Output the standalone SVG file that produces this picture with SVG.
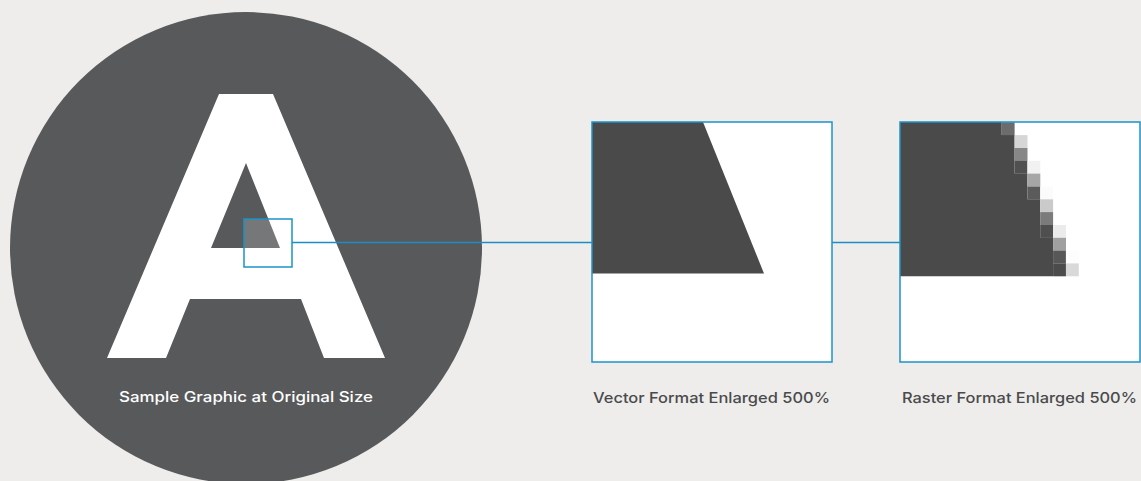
<svg xmlns="http://www.w3.org/2000/svg" width="1141" height="481" viewBox="0 0 1141 481">
<style>
.frame{fill:none;stroke:#1b93c8;stroke-width:1.5}
.conn{stroke:#1b8fc4;stroke-width:1.5;fill:none}
.dark{fill:#4a4a4b}
.lbl{font-family:Inter,"Liberation Sans",sans-serif;font-size:14.5px;font-weight:500}
</style>
<rect width="1141" height="481" fill="#eeedeb"/>
<g id="sample">
<circle cx="246" cy="248" r="236" fill="#58595b"/>
<path d="M219,94 L273,94 L385,358 L324,358 L301,299 L190,299 L166,358 L107,358 Z M246,163 L211,248 L280,248 Z" fill="#fff" fill-rule="evenodd"/>
<rect x="244" y="219" width="48" height="48" fill="#fff" fill-opacity="0.18"/>
<rect x="244" y="219" width="48" height="48" class="frame"/>
<text class="lbl" x="246" y="401.5" fill="#fff" text-anchor="middle" textLength="254" lengthAdjust="spacingAndGlyphs">Sample Graphic at Original Size</text>
</g>
<g id="connectors">
<line x1="292" y1="242.5" x2="592" y2="242.5" class="conn"/>
<line x1="832" y1="242.5" x2="900" y2="242.5" class="conn"/>
</g>
<g id="vector">
<rect x="592" y="122" width="240" height="240" fill="#fff"/>
<path d="M592,122 L703,122 L764,273.5 L592,273.5 Z" class="dark"/>
<rect x="592" y="122" width="240" height="240" class="frame"/>
<text class="lbl" x="593" y="403" fill="#4a4a4b" textLength="237" lengthAdjust="spacingAndGlyphs">Vector Format Enlarged 500%</text>
</g>
<g id="raster">
<rect x="900" y="122" width="240" height="240" fill="#fff"/>
<path d="M900,122 H1001.7 V135.1 H1014.6 V173.6 H1027.4 V199.3 H1040.2 V237.8 H1053.1 V276.3 H900 Z" class="dark"/>
<g>
<rect x="1001.7" y="122.3" width="12.9" height="12.9" fill="#6c6c6c"/>
<rect x="1014.6" y="135.1" width="12.9" height="12.9" fill="#d6d6d6"/>
<rect x="1014.6" y="148" width="12.9" height="12.9" fill="#878787"/>
<rect x="1014.6" y="160.8" width="12.9" height="12.9" fill="#505050"/>
<rect x="1027.4" y="160.8" width="12.9" height="12.9" fill="#f1f1f1"/>
<rect x="1027.4" y="173.6" width="12.9" height="12.9" fill="#a6a6a6"/>
<rect x="1027.4" y="186.5" width="12.9" height="12.9" fill="#5b5b5b"/>
<rect x="1040.2" y="186.5" width="12.9" height="12.9" fill="#fbfbfb"/>
<rect x="1040.2" y="199.3" width="12.9" height="12.9" fill="#cacaca"/>
<rect x="1040.2" y="212.1" width="12.9" height="12.9" fill="#7b7b7b"/>
<rect x="1040.2" y="225" width="12.9" height="12.9" fill="#4f4f4f"/>
<rect x="1053.1" y="225" width="12.9" height="12.9" fill="#ebebeb"/>
<rect x="1053.1" y="237.8" width="12.9" height="12.9" fill="#a0a0a0"/>
<rect x="1053.1" y="250.6" width="12.9" height="12.9" fill="#575757"/>
<rect x="1065.9" y="250.6" width="12.9" height="12.9" fill="#fdfdfd"/>
<rect x="1053.1" y="263.4" width="12.9" height="12.9" fill="#4b4b4b"/>
<rect x="1065.9" y="263.4" width="12.9" height="12.9" fill="#d9d9d9"/>
</g>
<rect x="900" y="122" width="240" height="240" class="frame"/>
<text class="lbl" x="902" y="403" fill="#4a4a4b" textLength="235" lengthAdjust="spacingAndGlyphs">Raster Format Enlarged 500%</text>
</g>
</svg>
